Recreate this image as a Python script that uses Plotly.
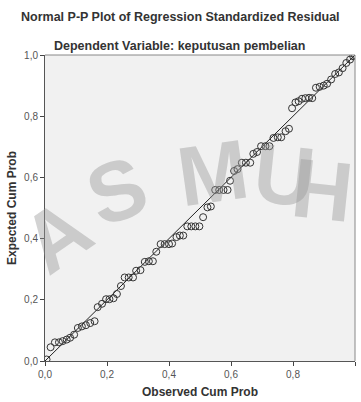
import plotly.graph_objects as go

# Observed vs expected cumulative probabilities of the standardized residuals
observed_cum_prob = [
    0.005, 0.018, 0.032, 0.045, 0.057, 0.070, 0.081, 0.094, 0.106, 0.119,
    0.132, 0.146, 0.160, 0.170, 0.184, 0.197, 0.208, 0.221, 0.232, 0.245,
    0.257, 0.270, 0.284, 0.294, 0.308, 0.322, 0.335, 0.348, 0.359, 0.373,
    0.386, 0.400, 0.410, 0.424, 0.435, 0.446, 0.459, 0.472, 0.485, 0.498,
    0.510, 0.524, 0.535, 0.549, 0.562, 0.576, 0.589, 0.597, 0.610, 0.621,
    0.635, 0.648, 0.662, 0.672, 0.684, 0.697, 0.711, 0.724, 0.737, 0.751,
    0.762, 0.776, 0.787, 0.797, 0.808, 0.818, 0.829, 0.840, 0.852, 0.862,
    0.874, 0.886, 0.899, 0.910, 0.923, 0.936, 0.948, 0.960, 0.972, 0.984,
    0.994, 1.000,
]
expected_cum_prob = [
    0.005, 0.045, 0.061, 0.061, 0.065, 0.070, 0.076, 0.086, 0.108, 0.113,
    0.117, 0.124, 0.130, 0.176, 0.187, 0.202, 0.202, 0.205, 0.219, 0.245,
    0.273, 0.273, 0.273, 0.295, 0.297, 0.324, 0.326, 0.326, 0.357, 0.382,
    0.382, 0.382, 0.384, 0.405, 0.410, 0.410, 0.440, 0.440, 0.440, 0.440,
    0.470, 0.502, 0.505, 0.559, 0.559, 0.559, 0.559, 0.589, 0.621, 0.627,
    0.648, 0.648, 0.648, 0.677, 0.683, 0.702, 0.702, 0.702, 0.729, 0.731,
    0.731, 0.751, 0.759, 0.826, 0.845, 0.849, 0.857, 0.859, 0.860, 0.859,
    0.893, 0.896, 0.900, 0.906, 0.920, 0.938, 0.943, 0.957, 0.974, 0.985,
    0.996, 1.000,
]
reference_line = [0.0, 1.0]
tick_values = [0.0, 0.2, 0.4, 0.6, 0.8, 1.0]

title_main = "Normal P-P Plot of Regression Standardized Residual"
title_sub = "Dependent Variable: keputusan pembelian"

# Faint background lettering: (letter, x px, y px, rotation)
stamp_letters = ["A", "S", "M", "U", "H"]
stamp_x = [56, 117, 213, 284, 322]
stamp_y = [238, 193, 175, 177, 192]
stamp_angle = [-35, -20, -8, 6, 6]

font_family = "Liberation Sans, Arial, sans-serif"
W, H = 361, 402
L, R, T, B = 45, 6, 55, 37
plot_w, plot_h = W - L - R, H - T - B

fig = go.Figure()

fig.add_trace(go.Scatter(
    x=reference_line, y=reference_line, mode="lines",
    line=dict(color="#222222", width=1), hoverinfo="skip", showlegend=False,
))

fig.add_trace(go.Scatter(
    x=observed_cum_prob, y=expected_cum_prob, mode="markers",
    marker=dict(symbol="circle-open", size=7, color="#333333",
                line=dict(width=1, color="#333333")),
    showlegend=False,
))

annotations = [
    dict(text=f"<b>{title_main}</b>", xref="paper", yref="paper",
         x=(180 - L) / plot_w, y=1 + (T - 17) / plot_h,
         xanchor="center", yanchor="middle", showarrow=False,
         font=dict(family=font_family, size=12.5, color="#333333")),
    dict(text=f"<b>{title_sub}</b>", xref="paper", yref="paper",
         x=(179 - L) / plot_w, y=1 + (T - 46) / plot_h,
         xanchor="center", yanchor="middle", showarrow=False,
         font=dict(family=font_family, size=12.5, color="#333333")),
]
for ch, sx, sy, ang in zip(stamp_letters, stamp_x, stamp_y, stamp_angle):
    annotations.append(dict(
        text=f"<b>{ch}</b>", xref="paper", yref="paper",
        x=(sx - L) / plot_w, y=1 - (sy - T) / plot_h,
        xanchor="center", yanchor="middle", showarrow=False, textangle=ang,
        font=dict(family=font_family, size=84, color="rgba(150,150,150,0.42)"),
    ))

axis_common = dict(
    range=[0, 1], tickvals=tick_values, tickformat=".1f",
    ticks="outside", ticklen=4, tickwidth=1, tickcolor="#444444",
    showline=True, linecolor="#555555", linewidth=1, mirror=False,
    showgrid=False, zeroline=False,
    tickfont=dict(family=font_family, size=10, color="#555555"),
)

fig.update_layout(
    width=W, height=H,
    margin=dict(l=L, r=R, t=T, b=B),
    paper_bgcolor="white", plot_bgcolor="#f1f1f1",
    separators=",.",
    xaxis=dict(
        **axis_common,
        title=dict(text="<b>Observed Cum Prob</b>", standoff=8,
                   font=dict(family=font_family, size=12, color="#333333")),
    ),
    yaxis=dict(
        **axis_common,
        title=dict(text="<b>Expected Cum Prob</b>", standoff=4,
                   font=dict(family=font_family, size=12, color="#333333")),
    ),
    shapes=[
        dict(type="line", xref="paper", yref="paper", x0=0, x1=1, y0=1, y1=1,
             line=dict(color="#888888", width=1)),
        dict(type="line", xref="paper", yref="paper", x0=1, x1=1, y0=0, y1=1,
             line=dict(color="#888888", width=1)),
    ],
    annotations=annotations,
)

fig.write_html("out.html")
